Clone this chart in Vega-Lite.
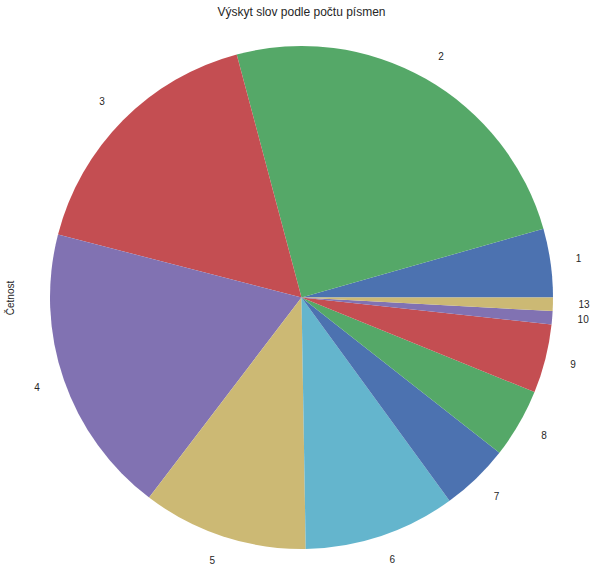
{
  "$schema": "https://vega.github.io/schema/vega-lite/v6.json",
  "autosize": "none",
  "width": 503,
  "height": 503,
  "padding": {"left": 50, "top": 46, "right": 44, "bottom": 23},
  "background": "white",
  "view": {"stroke": null},
  "title": {"text": "Výskyt slov podle počtu písmen", "font": "Liberation Sans", "fontSize": 12, "fontWeight": "normal", "color": "#262626", "offset": 24},
  "data": {"values": [
    {"idx": 1, "label": "1", "value": 15.86},
    {"idx": 2, "label": "2", "value": 89.07},
    {"idx": 3, "label": "3", "value": 60.57},
    {"idx": 4, "label": "4", "value": 67.2},
    {"idx": 5, "label": "5", "value": 38.26},
    {"idx": 6, "label": "6", "value": 35.1},
    {"idx": 7, "label": "7", "value": 15.84},
    {"idx": 8, "label": "8", "value": 16.0},
    {"idx": 9, "label": "9", "value": 15.95},
    {"idx": 10, "label": "10", "value": 3.05},
    {"idx": 13, "label": "13", "value": 3.1}
  ]},
  "layer": [
    {
      "mark": {"type": "arc", "outerRadius": 251.5},
      "encoding": {
        "theta": {"field": "value", "type": "quantitative", "stack": true, "scale": {"range": [1.5707963, -4.712389]}},
        "order": {"field": "idx", "type": "quantitative"},
        "color": {"field": "label", "type": "nominal", "legend": null, "sort": {"field": "idx"},
          "scale": {"domain": ["1","2","3","4","5","6","7","8","9","10","13"],
                    "range": ["#4C72B0","#55A868","#C44E52","#8172B2","#CCB974","#64B5CD","#4C72B0","#55A868","#C44E52","#8172B2","#CCB974"]}}
      }
    },
    {
      "mark": {"type": "text", "radius": 277, "font": "Liberation Sans", "fontSize": 10, "color": "#262626", "align": "left", "baseline": "middle"},
      "encoding": {
        "theta": {"field": "value", "type": "quantitative", "stack": true, "scale": {"range": [1.5707963, -4.712389]}},
        "order": {"field": "idx", "type": "quantitative"},
        "text": {"condition": {"test": "datum.idx < 3 || datum.idx > 5", "field": "label"}, "value": ""}
      }
    },
    {
      "mark": {"type": "text", "radius": 277, "font": "Liberation Sans", "fontSize": 10, "color": "#262626", "align": "right", "baseline": "middle"},
      "encoding": {
        "theta": {"field": "value", "type": "quantitative", "stack": true, "scale": {"range": [1.5707963, -4.712389]}},
        "order": {"field": "idx", "type": "quantitative"},
        "text": {"condition": {"test": "datum.idx >= 3 && datum.idx <= 5", "field": "label"}, "value": ""}
      }
    },
    {
      "mark": {"type": "point", "opacity": 0},
      "encoding": {
        "y": {"datum": 0, "type": "quantitative", "axis": {"title": "Četnost", "titleFont": "Liberation Sans", "titleFontSize": 10, "titleFontWeight": "normal", "titleColor": "#262626", "titlePadding": 35, "labels": false, "ticks": false, "domain": false, "grid": false}}
      }
    }
  ]
}
